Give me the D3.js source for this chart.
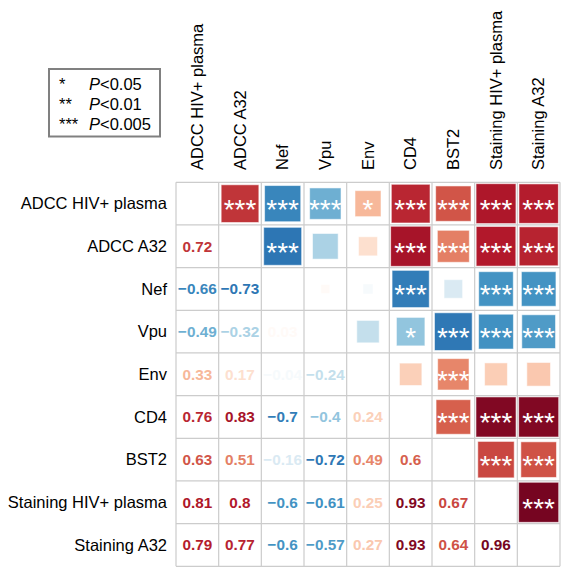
<!DOCTYPE html>
<html>
<head>
<meta charset="utf-8">
<script src="https://cdn.jsdelivr.net/npm/d3@7"></script>
<style>
  html, body { margin: 0; padding: 0; background: #fff; }
  svg { display: block; font-family: "Liberation Sans", Arial, sans-serif; }
</style>
</head>
<body>
<svg id="chart" width="564" height="568"></svg>
<script>
// ---- data ----
const variables = ["ADCC HIV+ plasma", "ADCC A32", "Nef", "Vpu", "Env", "CD4", "BST2", "Staining HIV+ plasma", "Staining A32"];

// lower triangle correlations, row i holds columns 0..i-1
const corrLower = [
  [],
  [0.72],
  [-0.66, -0.73],
  [-0.49, -0.32, 0.03],
  [0.33, 0.17, -0.04, -0.24],
  [0.76, 0.83, -0.7, -0.4, 0.24],
  [0.63, 0.51, -0.16, -0.72, 0.49, 0.6],
  [0.81, 0.8, -0.6, -0.61, 0.25, 0.93, 0.67],
  [0.79, 0.77, -0.6, -0.57, 0.27, 0.93, 0.64, 0.96]
];

// upper triangle significance, row i holds columns i+1..n-1
const sigUpper = [
  ["***", "***", "***", "*", "***", "***", "***", "***"],
  ["***", "", "", "***", "***", "***", "***"],
  ["", "", "***", "", "***", "***"],
  ["", "*", "***", "***", "***"],
  ["", "***", "", ""],
  ["***", "***", "***"],
  ["***", "***"],
  ["***"],
  []
];

const legendStars = ["*", "**", "***"];
const legendLabels = ["<0.05", "<0.01", "<0.005"];

const colorStops = ["#053061", "#2166AC", "#4393C3", "#92C5DE", "#D1E5F0", "#FFFFFF",
                    "#FDDBC7", "#F4A582", "#D6604D", "#B2182B", "#67001F"];

// ---- layout ----
const svg = d3.select("#chart");
const gridLeft = 176, gridTop = 182.3, gridSize = 384;
const n = variables.length;

const x = d3.scaleBand().domain(d3.range(n)).range([gridLeft, gridLeft + gridSize]).padding(0);
const y = d3.scaleBand().domain(d3.range(n)).range([gridTop, gridTop + gridSize]).padding(0);
const cell = x.bandwidth();

const color = d3.scaleLinear()
  .domain(d3.range(colorStops.length).map(i => -1 + i * 0.2))
  .range(colorStops)
  .interpolate(d3.interpolateRgb);

const corr = (i, j) => (i > j ? corrLower[i][j] : corrLower[j][i]);

// cells list
const lowerCells = [], upperCells = [];
for (let i = 0; i < n; i++) {
  for (let j = 0; j < n; j++) {
    if (i > j) lowerCells.push({ i, j, r: corr(i, j) });
    else if (j > i) upperCells.push({ i, j, r: corr(i, j), sig: sigUpper[i][j - i - 1] });
  }
}

// squares (upper triangle)
const side = r => Math.min(Math.sqrt(Math.abs(r)) * cell + 1.5, cell - 2.6);
const ug = svg.append("g");
ug.selectAll("rect").data(upperCells).join("rect")
  .attr("x", d => x(d.j) + cell / 2 - side(d.r) / 2)
  .attr("y", d => y(d.i) + cell / 2 - side(d.r) / 2)
  .attr("width", d => side(d.r))
  .attr("height", d => side(d.r))
  .attr("fill", d => color(d.r))
  .attr("stroke", "#fff")
  .attr("stroke-opacity", 0.55)
  .attr("stroke-width", 1);

ug.selectAll("text").data(upperCells.filter(d => d.sig)).join("text")
  .attr("x", d => x(d.j) + cell / 2)
  .attr("y", d => y(d.i) + cell / 2 + 15.5)
  .attr("text-anchor", "middle")
  .attr("fill", "#fff")
  .attr("font-size", 28)
  .text(d => d.sig);

// numbers (lower triangle)
const fmt = v => (v < 0 ? "\u2212" : "") + String(Math.abs(v));
svg.append("g").selectAll("text").data(lowerCells).join("text")
  .attr("x", d => x(d.j) + cell / 2)
  .attr("y", d => y(d.i) + cell / 2)
  .attr("dy", "0.36em")
  .attr("text-anchor", "middle")
  .attr("font-size", 15.3)
  .attr("font-weight", "bold")
  .attr("fill", d => color(d.r))
  .text(d => fmt(d.r));

// grid
const grid = svg.append("g").attr("stroke", "#cccccc").attr("stroke-width", 1.2);
grid.selectAll("line.v").data(d3.range(n + 1)).join("line")
  .attr("class", "v")
  .attr("x1", k => gridLeft + k * cell).attr("x2", k => gridLeft + k * cell)
  .attr("y1", gridTop).attr("y2", gridTop + gridSize);
grid.selectAll("line.h").data(d3.range(n + 1)).join("line")
  .attr("class", "h")
  .attr("y1", k => gridTop + k * cell).attr("y2", k => gridTop + k * cell)
  .attr("x1", gridLeft).attr("x2", gridLeft + gridSize);

// row labels
svg.append("g").selectAll("text").data(variables).join("text")
  .attr("x", 167)
  .attr("y", (d, i) => y(i) + cell / 2)
  .attr("dy", "0.35em")
  .attr("text-anchor", "end")
  .attr("font-size", 16.5)
  .attr("fill", "#000")
  .text(d => d);

// column labels
svg.append("g").selectAll("text").data(variables).join("text")
  .attr("transform", (d, i) => `translate(${x(i) + cell / 2},170) rotate(-90)`)
  .attr("dy", "0.35em")
  .attr("text-anchor", "start")
  .attr("font-size", 16.5)
  .attr("fill", "#000")
  .text(d => d);

// legend
const lg = svg.append("g");
lg.append("rect")
  .attr("x", 49).attr("y", 69).attr("width", 111).attr("height", 67.5)
  .attr("fill", "#fff").attr("stroke", "#808080").attr("stroke-width", 2);
legendStars.forEach((s, k) => {
  const by = 90 + k * 20;
  lg.append("text").attr("x", 59).attr("y", by).attr("font-size", 16.5).text(s);
  const t = lg.append("text").attr("x", 89).attr("y", by).attr("font-size", 16.5);
  t.append("tspan").attr("font-style", "italic").text("P");
  t.append("tspan").text(legendLabels[k]);
});
</script>
</body>
</html>
